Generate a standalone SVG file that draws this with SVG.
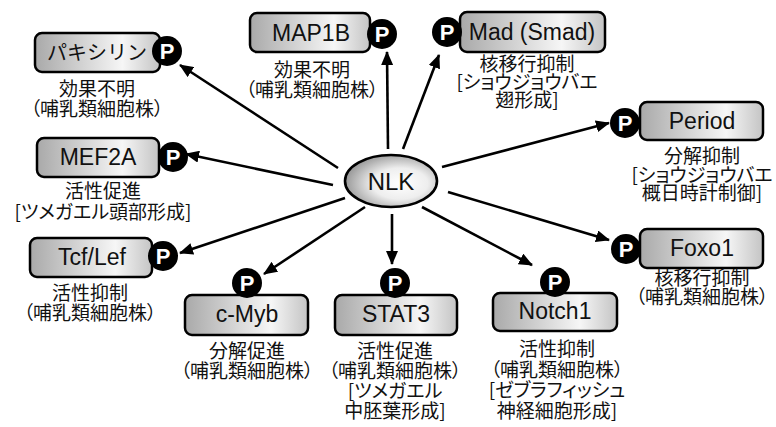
<svg xmlns="http://www.w3.org/2000/svg" width="776" height="427" viewBox="0 0 776 427">
<defs>
<linearGradient id="boxg" x1="0" y1="0" x2="1" y2="0">
<stop offset="0" stop-color="#a9a9a9"/>
<stop offset="0.7" stop-color="#f6f6f6"/>
<stop offset="1" stop-color="#c4c4c4"/>
</linearGradient>
<radialGradient id="ellg" cx="0.6" cy="0.55" r="0.6">
<stop offset="0" stop-color="#ffffff"/>
<stop offset="0.5" stop-color="#eeeeee"/>
<stop offset="1" stop-color="#999999"/>
</radialGradient>
<marker id="arr" markerUnits="userSpaceOnUse" markerWidth="14" markerHeight="12" refX="13" refY="6" orient="auto">
<path d="M0,0 L14,6 L0,12 z" fill="#000"/>
</marker>
</defs>
<style>
.box{fill:url(#boxg);stroke:#000;stroke-width:2.5}
.name{font-family:"Liberation Sans","Noto Sans CJK JP",sans-serif;font-size:23px;text-anchor:middle;fill:#111}
.lab{font-family:"Noto Sans CJK JP","Liberation Sans",sans-serif;font-size:19px;text-anchor:middle;fill:#111;font-feature-settings:"palt"}
.pc{fill:#000}
.pt{font-family:"Liberation Sans",sans-serif;font-size:22px;font-weight:bold;fill:#fff;text-anchor:middle}
.conn line{stroke:#000;stroke-width:2.6;marker-end:url(#arr)}
</style>
<rect width="776" height="427" fill="#fff"/>
<g class="conn" id="connectors">
<line x1="338" y1="168" x2="180" y2="65"/>
<line x1="388" y1="149" x2="387" y2="52"/>
<line x1="403" y1="149" x2="439" y2="55"/>
<line x1="442" y1="167" x2="609" y2="123"/>
<line x1="448" y1="192" x2="609" y2="240"/>
<line x1="422" y1="207" x2="532" y2="265"/>
<line x1="392" y1="214" x2="392" y2="264"/>
<line x1="365" y1="207" x2="264" y2="274"/>
<line x1="345" y1="198" x2="180" y2="253"/>
<line x1="333" y1="185" x2="186" y2="154"/>
</g>
<g id="NLK">
<ellipse cx="391" cy="181" rx="46" ry="26" fill="url(#ellg)" stroke="#000" stroke-width="2.6"/>
<text x="391" y="190" class="name" style="font-size:24px">NLK</text>
</g>
<g id="paxillin">
<rect x="35" y="33" width="125" height="39" rx="7" class="box"/>
<text x="97" y="60" class="name" style="font-size:20px">パキシリン</text>
<circle cx="167" cy="51" r="15" class="pc"/><text x="167" y="59" class="pt">P</text>
<text x="97" y="96" class="lab">効果不明</text>
<text x="97" y="116" class="lab">（哺乳類細胞株）</text>
</g>
<g id="MAP1B">
<rect x="250" y="13" width="120" height="39" rx="7" class="box"/>
<text x="311" y="41" class="name">MAP1B</text>
<circle cx="382" cy="34" r="15" class="pc"/><text x="382" y="42" class="pt">P</text>
<text x="312" y="77" class="lab">効果不明</text>
<text x="312" y="97" class="lab">（哺乳類細胞株）</text>
</g>
<g id="Mad">
<rect x="460" y="12" width="145" height="40" rx="7" class="box"/>
<text x="532" y="40" class="name">Mad (Smad)</text>
<circle cx="447" cy="32" r="15" class="pc"/><text x="447" y="40" class="pt">P</text>
<text x="527" y="71" class="lab">核移行抑制</text>
<text x="527" y="89" class="lab">[ショウジョウバエ</text>
<text x="527" y="107" class="lab">翅形成]</text>
</g>
<g id="Period">
<rect x="640" y="102" width="123" height="38" rx="7" class="box"/>
<text x="702" y="129" class="name">Period</text>
<circle cx="625" cy="123" r="15" class="pc"/><text x="625" y="131" class="pt">P</text>
<text x="702" y="163" class="lab">分解抑制</text>
<text x="702" y="182" class="lab">[ショウジョウバエ</text>
<text x="702" y="200" class="lab">概日時計制御]</text>
</g>
<g id="Foxo1">
<rect x="640" y="229" width="123" height="39" rx="7" class="box"/>
<text x="702" y="256" class="name">Foxo1</text>
<circle cx="626" cy="249" r="15" class="pc"/><text x="626" y="257" class="pt">P</text>
<text x="702" y="285" class="lab">核移行抑制</text>
<text x="702" y="304" class="lab">（哺乳類細胞株）</text>
</g>
<g id="MEF2A">
<rect x="37" y="138" width="122" height="39" rx="7" class="box"/>
<text x="98" y="165" class="name">MEF2A</text>
<circle cx="173" cy="157" r="15" class="pc"/><text x="173" y="165" class="pt">P</text>
<text x="103" y="198" class="lab">活性促進</text>
<text x="103" y="219" class="lab">[ツメガエル頭部形成]</text>
</g>
<g id="TcfLef">
<rect x="30" y="238" width="122" height="39" rx="7" class="box"/>
<text x="92" y="265" class="name">Tcf/Lef</text>
<circle cx="163" cy="256" r="15" class="pc"/><text x="163" y="264" class="pt">P</text>
<text x="90" y="300" class="lab">活性抑制</text>
<text x="90" y="320" class="lab">（哺乳類細胞株）</text>
</g>
<g id="cMyb">
<rect x="185" y="295" width="123" height="40" rx="7" class="box"/>
<text x="247" y="322" class="name">c-Myb</text>
<circle cx="247" cy="283" r="15" class="pc"/><text x="247" y="291" class="pt">P</text>
<text x="247" y="358" class="lab">分解促進</text>
<text x="247" y="378" class="lab">（哺乳類細胞株）</text>
</g>
<g id="STAT3">
<rect x="335" y="295" width="122" height="40" rx="7" class="box"/>
<text x="396" y="322" class="name">STAT3</text>
<circle cx="395" cy="283" r="15" class="pc"/><text x="395" y="291" class="pt">P</text>
<text x="395" y="358" class="lab">活性促進</text>
<text x="395" y="378" class="lab">（哺乳類細胞株）</text>
<text x="395" y="398" class="lab">[ツメガエル</text>
<text x="395" y="418" class="lab">中胚葉形成]</text>
</g>
<g id="Notch1">
<rect x="493" y="293" width="124" height="38" rx="7" class="box"/>
<text x="555" y="319" class="name">Notch1</text>
<circle cx="555" cy="282" r="15" class="pc"/><text x="555" y="290" class="pt">P</text>
<text x="557" y="356" class="lab">活性抑制</text>
<text x="557" y="377" class="lab">（哺乳類細胞株）</text>
<text x="557" y="397" class="lab">[ゼブラフィッシュ</text>
<text x="557" y="418" class="lab">神経細胞形成]</text>
</g>
</svg>
